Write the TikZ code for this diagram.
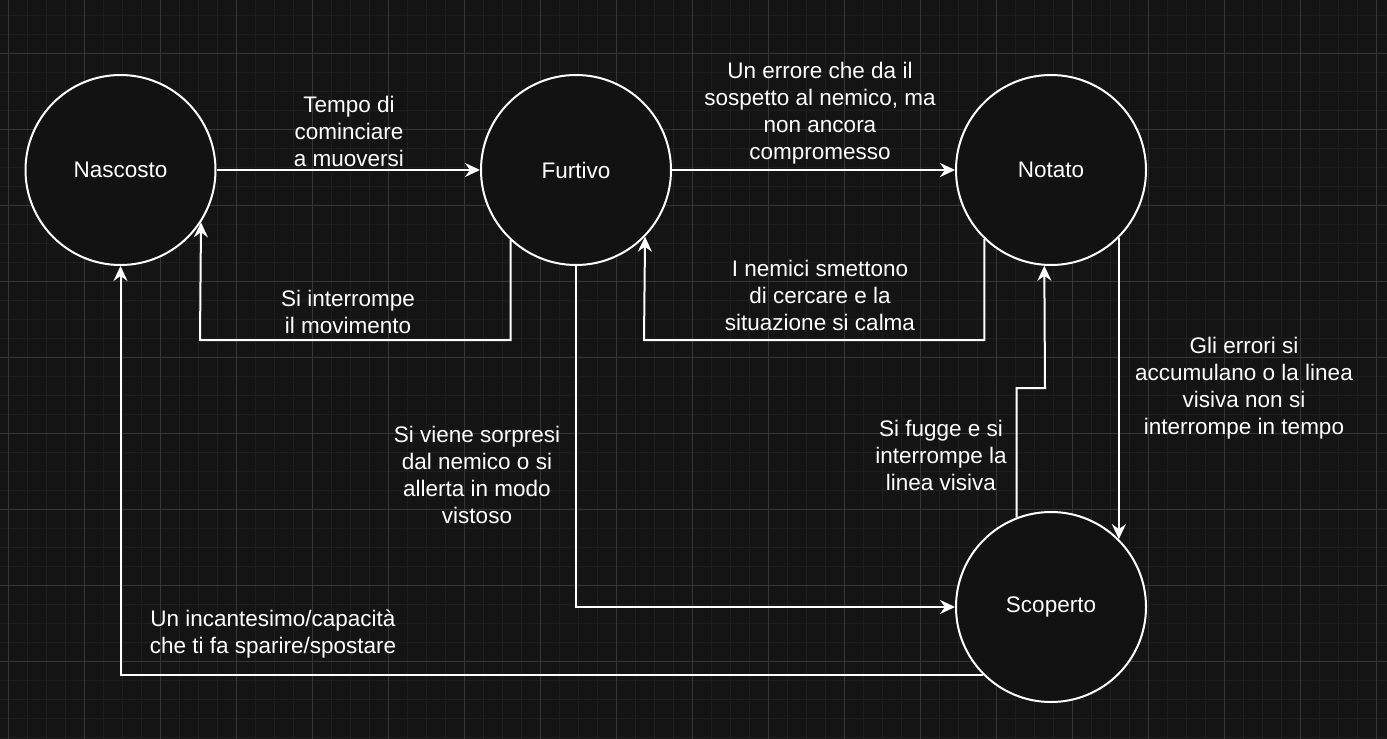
\documentclass[tikz,border=0pt]{standalone}
\usepackage{fontspec}
\setmainfont{Liberation Sans}
\usetikzlibrary{arrows.meta,calc}
\definecolor{bg}{HTML}{141414}
\definecolor{gminor}{HTML}{1E1E1E}
\definecolor{gmajor}{HTML}{363636}
\definecolor{circfill}{HTML}{121212}
\tikzset{
  state/.style={circle,draw=white,line width=2pt,fill=circfill,minimum size=190pt,inner sep=0pt,
    text=white,font=\fontsize{22.5}{27}\selectfont},
  arr/.style={draw=white,line width=2pt,-{Stealth[length=15pt,width=14pt,inset=5pt]}},
  lbl/.style={text=white,align=center,font=\fontsize{22.5}{27}\selectfont,inner sep=0pt}
}
\begin{document}
\begin{tikzpicture}[x=1pt,y=-1pt]
\fill[bg] (0,0) rectangle (1387,739);
\useasboundingbox (0,0) rectangle (1387,739);
\begin{scope}
\clip (0,0) rectangle (1387,739);
\foreach \i in {0,...,73} {
  \draw[gminor,line width=1pt] ({8+19*\i},0) -- ({8+19*\i},739);
}
\foreach \i in {0,...,39} {
  \draw[gminor,line width=1pt] (0,{-4+19*\i}) -- (1387,{-4+19*\i});
}
\foreach \i in {0,...,18} {
  \draw[gmajor,line width=1pt] ({8+76*\i},0) -- ({8+76*\i},739);
}
\foreach \i in {0,...,9} {
  \draw[gmajor,line width=1pt] (0,{-23+76*\i}) -- (1387,{-23+76*\i});
}
\end{scope}

\node[state] (N) at (120.5,170) {Nascosto};
\node[state] (F) at (576,170) {Furtivo};
\node[state] (T) at (1051,170) {Notato};
\node[state] (S) at (1051,607) {Scoperto};

\coordinate (b2b) at (200,340);
\coordinate (b4b) at (644,340);
\coordinate (b6b) at (1045,388);

% edges
\draw[arr] (N.east) -- (F.west);
\draw[arr] (F.227) |- (b2b) -- (N.327);
\draw[arr] (F.east) -- (T.west);
\draw[arr] (T.226) |- (b4b) -- (F.316);
\draw[arr] (T.315) -- (S.45);
\draw[arr] (S.111) |- (b6b) -- (T.266);
\draw[arr] (F.south) |- (S.west);
\draw[arr] (S.225) -| (N.south);

% labels
\node[lbl] (l1) at (349,131) {Tempo di\\cominciare\\a muoversi};
\node[lbl] (l2) at (348,312) {Si interrompe\\il movimento};
\node[lbl] (l3) at (820,113.5) {Un errore che da il\\sospetto al nemico, ma\\non ancora\\compromesso};
\node[lbl] (l4) at (820,295) {I nemici smettono\\di cercare e la\\situazione si calma};
\node[lbl] (l5) at (1244,388) {Gli errori si\\accumulano o la linea\\visiva non si\\interrompe in tempo};
\node[lbl] (l6) at (941,455) {Si fugge e si\\interrompe la\\linea visiva};
\node[lbl] (l7) at (477,474.5) {Si viene sorpresi\\dal nemico o si\\allerta in modo\\vistoso};
\node[lbl] (l8) at (273,634.5) {Un incantesimo/capacità\\che ti fa sparire/spostare};
\end{tikzpicture}
\end{document}
